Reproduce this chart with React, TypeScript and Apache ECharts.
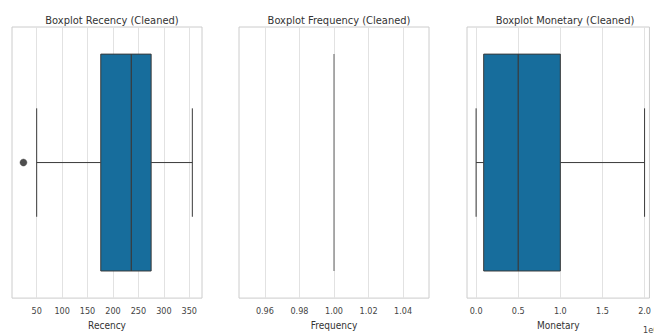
import React, { useEffect, useRef } from "react";
import * as echarts from "echarts";

// Five-number summaries: [whisker low, Q1, median, Q3, whisker high]
const recencyStats = [50, 176, 236, 275, 356];
const recencyOutliers = [24];
const frequencyStats = [1, 1, 1, 1, 1];
const monetaryStats = [0, 90000, 500000, 1000000, 2000000];

const recencyTicks = [50, 100, 150, 200, 250, 300, 350];
const frequencyTicks = [0.96, 0.98, 1.0, 1.02, 1.04];
const monetaryTicks = [0, 500000, 1000000, 1500000, 2000000];

const titles = [
  "Boxplot Recency (Cleaned)",
  "Boxplot Frequency (Cleaned)",
  "Boxplot Monetary (Cleaned)",
];
const axisNames = ["Recency", "Frequency", "Monetary"];

const FONT = "'Liberation Sans Narrow', 'DejaVu Sans Condensed', 'Liberation Sans', sans-serif";
const BOX_COLOR = "#176d9c";
const EDGE = "#3a3a3a";

const grids = [
  { left: 12, width: 190 },
  { left: 239, width: 190 },
  { left: 467, width: 186 },
];
const TOP = 27;
const HEIGHT = 278;

function renderBox(params: any, api: any) {
  const y = api.value(5);
  const h = api.size([0, 0.8])[1];
  const capH = h / 2;
  const p = [0, 1, 2, 3, 4].map((i) => api.coord([api.value(i), y]));
  const cy = p[0][1];
  const lineStyle = { stroke: EDGE, lineWidth: 1, fill: null };
  const boxW = p[3][0] - p[1][0];
  if (Math.abs(boxW) < 0.5 && Math.abs(p[4][0] - p[0][0]) < 0.5) {
    // degenerate box: single line
    return {
      type: "line",
      shape: { x1: p[2][0], y1: cy - h / 2, x2: p[2][0], y2: cy + h / 2 },
      style: { stroke: "#7a7a7a", lineWidth: 1.2 },
    };
  }
  return {
    type: "group",
    children: [
      { type: "line", shape: { x1: p[0][0], y1: cy, x2: p[1][0], y2: cy }, style: lineStyle },
      { type: "line", shape: { x1: p[3][0], y1: cy, x2: p[4][0], y2: cy }, style: lineStyle },
      { type: "line", shape: { x1: p[0][0], y1: cy - capH / 2, x2: p[0][0], y2: cy + capH / 2 }, style: lineStyle },
      { type: "line", shape: { x1: p[4][0], y1: cy - capH / 2, x2: p[4][0], y2: cy + capH / 2 }, style: lineStyle },
      {
        type: "rect",
        shape: { x: p[1][0], y: cy - h / 2, width: boxW, height: h },
        style: { fill: BOX_COLOR, stroke: EDGE, lineWidth: 1 },
      },
      { type: "line", shape: { x1: p[2][0], y1: cy - h / 2, x2: p[2][0], y2: cy + h / 2 }, style: { stroke: EDGE, lineWidth: 1.2 } },
    ],
  };
}

export default function App() {
  const ref = useRef<HTMLDivElement>(null);
  useEffect(() => {
    if (!ref.current) return;
    const chart = echarts.init(ref.current, undefined, { renderer: "svg" });
    const ranges = [
      { min: 1.5, max: 375, ticks: recencyTicks, fmt: (v: number) => String(v) },
      { min: 0.945, max: 1.055, ticks: frequencyTicks, fmt: (v: number) => v.toFixed(2) },
      { min: -108000, max: 2058000, ticks: monetaryTicks, fmt: (v: number) => (v / 1e6).toFixed(1) },
    ];
    const statsList = [recencyStats, frequencyStats, monetaryStats];
    chart.setOption({
      animation: false,
      backgroundColor: "#ffffff",
      title: titles.map((t, i) => ({
        text: t,
        left: grids[i].left + grids[i].width / 2,
        textAlign: "center",
        top: 10,
        textStyle: { fontFamily: FONT, fontSize: 11, fontWeight: "normal", color: "#333333" },
      })),
      grid: grids.map((g) => ({
        left: g.left,
        width: g.width,
        top: TOP,
        height: HEIGHT,
        show: true,
        borderColor: "#cccccc",
        borderWidth: 1,
        backgroundColor: "transparent",
      })),
      xAxis: ranges.map((r, i) => ({
        type: "value",
        gridIndex: i,
        min: r.min,
        max: r.max,
        name: axisNames[i],
        nameLocation: "middle",
        nameGap: 21,
        nameTextStyle: { fontFamily: FONT, fontSize: 10, color: "#333333" },
        axisLine: { show: false },
        axisTick: { show: false, customValues: r.ticks },
        axisLabel: {
          customValues: r.ticks,
          formatter: r.fmt,
          fontFamily: FONT,
          fontSize: 9,
          color: "#444444",
          margin: 8,
        },
        splitLine: { show: true, lineStyle: { color: "#e2e2e2", width: 1 } },
      })),
      yAxis: ranges.map((_, i) => ({
        type: "value",
        gridIndex: i,
        min: -0.5,
        max: 0.5,
        show: false,
        splitLine: { show: false },
      })),
      graphic: [
        {
          type: "text",
          left: 643,
          top: 325,
          style: { text: "1e6", fontFamily: FONT, fontSize: 9, fill: "#444444" },
        },
      ],
      series: [
        ...statsList.map((s, i) => ({
          type: "custom",
          xAxisIndex: i,
          yAxisIndex: i,
          renderItem: renderBox,
          encode: { x: [0, 1, 2, 3, 4], y: 5 },
          data: [[...s, 0]],
          clip: false,
          silent: true,
        })),
        {
          type: "scatter",
          xAxisIndex: 0,
          yAxisIndex: 0,
          symbol: "circle",
          symbolSize: 7,
          itemStyle: { color: "#222222", borderColor: "#444444", borderWidth: 0.5 },
          data: recencyOutliers.map((v) => [v, 0]),
          silent: true,
        },
      ],
    });
    return () => chart.dispose();
  }, []);
  return <div ref={ref} style={{ position: "fixed", left: 0, top: 0, width: 654, height: 335 }} />;
}
